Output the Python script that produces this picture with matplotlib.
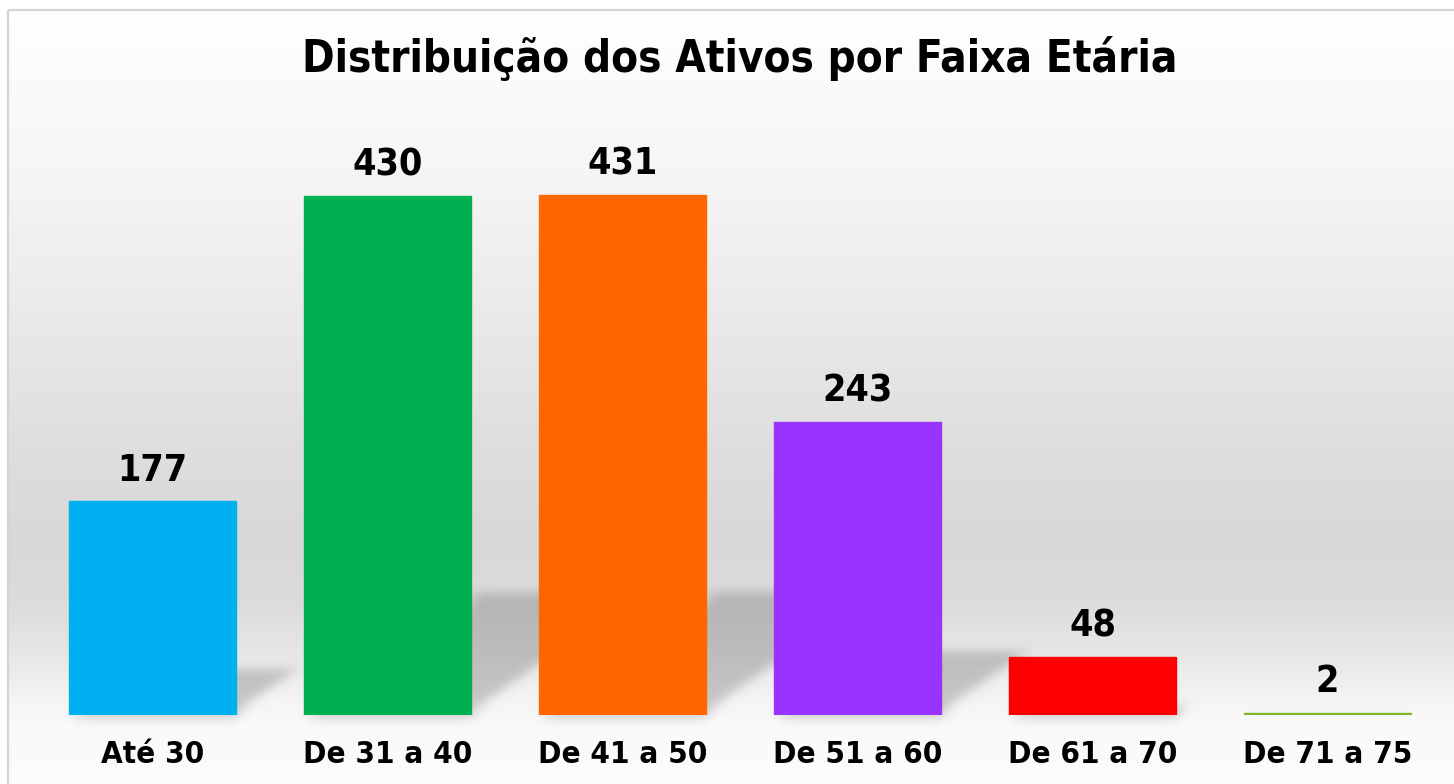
import numpy as np
import matplotlib
matplotlib.use("Agg")
import matplotlib.pyplot as plt
from matplotlib.patches import Rectangle
from matplotlib.collections import PolyCollection

# data
categories = ["Até 30", "De 31 a 40", "De 41 a 50", "De 51 a 60", "De 61 a 70", "De 71 a 75"]
values = [177, 430, 431, 243, 48, 2]
bar_colors = ["#00b0f0", "#00b050", "#ff6600", "#9933ff", "#ff0000", "#7fb52a"]
title = "Distribuição dos Ativos por Faixa Etária"

plt.rcParams['font.family'] = ['DejaVu Sans']
plt.rcParams['font.stretch'] = 'condensed'

W, H = 1454, 784
fig = plt.figure(figsize=(W / 100, H / 100), dpi=100)
fig.patch.set_facecolor("white")

# background panel with vertical grey gradient
bg = fig.add_axes([0, 0, 1, 1], zorder=0)
bg.axis("off")
stops_y = [10, 150, 300, 450, 540, 600, 660, 700, 720, 784]
stops_g = [255, 247, 235, 222, 216, 219, 232, 244, 249, 252]
yy = np.arange(10, H) + 0.5
grad = np.interp(yy, stops_y, stops_g) / 255.0
img = np.repeat(grad[:, None], 3, axis=1)
img = np.repeat(img[:, None, :], 4, axis=1)
bg.imshow(img, extent=[8, W + 5, H, 10], aspect="auto", interpolation="nearest")
bg.add_patch(Rectangle((8, 10), W + 20, H + 20, fill=False, edgecolor="#d4d4d4", lw=1.6))
bg.set_xlim(0, W)
bg.set_ylim(H, 0)

# main axes
ax_left, ax_right = 35, 1445
ax_bottom, ax_top = 715, 111.5
ax = fig.add_axes([ax_left / W, (H - ax_bottom) / H, (ax_right - ax_left) / W, (ax_bottom - ax_top) / H], zorder=1)
ax.patch.set_alpha(0)
ymax = 500
ax.set_xlim(-0.5, 5.5)
ax.set_ylim(0, ymax)
x = np.arange(len(values))
bw = 0.71


def blur(sigma):
    def f(im, dpi):
        pad = int(3 * sigma)
        src = np.pad(im, [(pad, pad), (pad, pad), (0, 0)], "constant")
        k = np.exp(-0.5 * (np.arange(-pad, pad + 1) / sigma) ** 2)
        k /= k.sum()
        tmp = np.zeros_like(src)
        for i, w in enumerate(k):
            tmp += w * np.roll(src, i - pad, axis=0)
        out = np.zeros_like(src)
        for i, w in enumerate(k):
            out += w * np.roll(tmp, i - pad, axis=1)
        return out, -pad, -pad
    return f


# perspective shadows on the floor behind each bar
px_x = (ax_right - ax_left) / 6.0
px_y = (ax_bottom - ax_top) / ymax
polys = []
for xi, v in zip(x, values):
    rise = 0.23 * v
    shift = 1.45 * rise * px_y / px_x
    polys.append([(xi - bw / 2, 0), (xi + bw / 2, 0),
                  (xi + bw / 2 + shift, rise), (xi - bw / 2 + shift, rise)])
shadows = PolyCollection(polys, facecolors=(0.4, 0.4, 0.4, 0.33), edgecolors="none", zorder=1)
shadows.set_agg_filter(blur(4.5))
ax.add_collection(shadows)

ax.bar(x, values, width=bw, color=bar_colors, edgecolor=bar_colors, linewidth=1.0, zorder=2)

for xi, v in zip(x, values):
    ax.annotate(str(v), (xi, v), xytext=(0, 9), textcoords="offset points",
                ha="center", va="bottom", fontsize=27, fontweight="bold", color="black")

ax.set_xticks(x)
ax.set_xticklabels(categories, fontsize=22.5, fontweight="bold")
ax.tick_params(axis="x", length=0, pad=18)
ax.set_yticks([])
for s in ax.spines.values():
    s.set_visible(False)

fig.text(740 / W, 1 - 72 / H, title, ha="center", va="baseline",
         fontsize=31.5, fontweight="bold", color="black")

fig.savefig("out.png", dpi=100)
